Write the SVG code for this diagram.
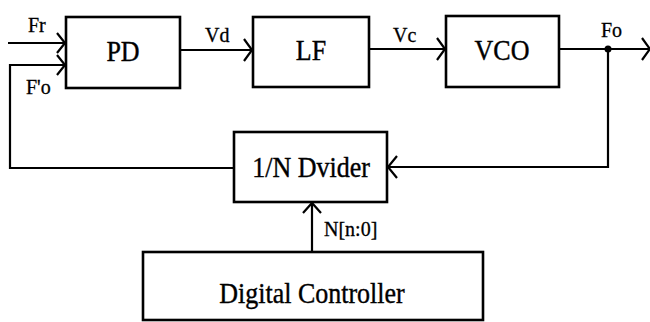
<svg xmlns="http://www.w3.org/2000/svg" width="650" height="322" viewBox="0 0 650 322">
<style>
.box{fill:#fff;stroke:#000;stroke-width:2.6}
.t{font-family:"Liberation Serif","Times New Roman",serif;font-size:26px;fill:#000;stroke:#000;stroke-width:0.35;text-anchor:middle}
.l{font-family:"Liberation Serif","Times New Roman",serif;font-size:20px;fill:#000;stroke:#000;stroke-width:0.3}
.w{fill:none;stroke:#000;stroke-width:2.2}
.ah{fill:none;stroke:#000;stroke-width:2.2;stroke-linejoin:miter}
</style>
<rect width="650" height="322" fill="#fff"/>
<g id="connectors">
<path class="w" d="M8,43 H65"/>
<path class="ah" d="M57,33 L65,43 L57,53"/>
<path class="w" d="M66,65 H10 V168 H234"/>
<path class="ah" d="M57,55 L65,65 L57,75"/>
<path class="w" d="M180,50 H252"/>
<path class="ah" d="M244,39 L252,50 L244,61"/>
<path class="w" d="M369,49 H445"/>
<path class="ah" d="M437,38 L445,49 L437,60"/>
<path class="w" d="M559,49 H649"/>
<path class="ah" d="M642,38 L650,49 L642,60"/>
<circle cx="608" cy="49" r="3.5" fill="#000"/>
<path class="w" d="M608,49 V167 H388"/>
<path class="ah" d="M397,156 L388,167 L397,178"/>
<path class="w" d="M312,252 V203"/>
<path class="ah" d="M303,213 L312,203 L321,213"/>
<text class="l" x="28" y="32">Fr</text>
<text class="l" x="26" y="94">F'o</text>
<text class="l" x="205" y="42">Vd</text>
<text class="l" x="393" y="42">Vc</text>
<text class="l" x="601" y="37">Fo</text>
<text class="l" x="324" y="236">N[n:0]</text>
</g>
<g id="pd"><rect class="box" x="66" y="17" width="114" height="71"/><text class="t" transform="translate(123,61) scale(1,1.12)">PD</text></g>
<g id="lf"><rect class="box" x="253" y="17" width="116" height="70"/><text class="t" transform="translate(311,60) scale(1,1.12)">LF</text></g>
<g id="vco"><rect class="box" x="446" y="16" width="113" height="71"/><text class="t" transform="translate(502,60) scale(1,1.12)">VCO</text></g>
<g id="divider"><rect class="box" x="234" y="132" width="153" height="70"/><text class="t" transform="translate(311,177) scale(1,1.12)">1/N Dvider</text></g>
<g id="controller"><rect class="box" x="143" y="252" width="340" height="68"/><text class="t" transform="translate(312,303) scale(1,1.12)">Digital Controller</text></g>
</svg>
